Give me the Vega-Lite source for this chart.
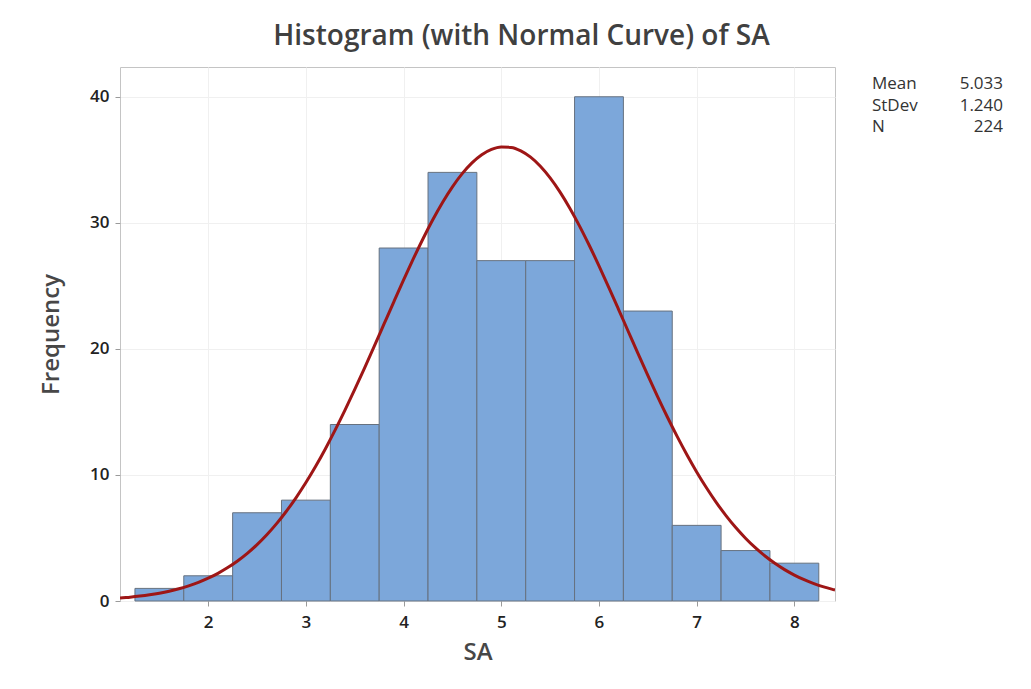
{
  "$schema": "https://vega.github.io/schema/vega-lite/v6.json",
  "width": 715,
  "height": 534,
  "autosize": {"type": "none"},
  "padding": {"left": 120, "top": 67, "right": 196, "bottom": 88},
  "background": "white",
  "config": {
    "font": "Open Sans",
    "view": {"stroke": "#c4c4c4", "strokeWidth": 1}
  },
  "title": {
    "text": "Histogram (with Normal Curve) of SA",
    "fontSize": 28,
    "fontWeight": 600,
    "color": "#404040",
    "anchor": "middle",
    "dx": 44,
    "offset": 16
  },
  "datasets": {
    "bins": [
      {"start": 1.25, "end": 1.75, "count": 1},
      {"start": 1.75, "end": 2.25, "count": 2},
      {"start": 2.25, "end": 2.75, "count": 7},
      {"start": 2.75, "end": 3.25, "count": 8},
      {"start": 3.25, "end": 3.75, "count": 14},
      {"start": 3.75, "end": 4.25, "count": 28},
      {"start": 4.25, "end": 4.75, "count": 34},
      {"start": 4.75, "end": 5.25, "count": 27},
      {"start": 5.25, "end": 5.75, "count": 27},
      {"start": 5.75, "end": 6.25, "count": 40},
      {"start": 6.25, "end": 6.75, "count": 23},
      {"start": 6.75, "end": 7.25, "count": 6},
      {"start": 7.25, "end": 7.75, "count": 4},
      {"start": 7.75, "end": 8.25, "count": 3}
    ],
    "curve": [
      {"x": 1.097, "y": 0.233},
      {"x": 1.1, "y": 0.236},
      {"x": 1.2, "y": 0.303},
      {"x": 1.3, "y": 0.388},
      {"x": 1.4, "y": 0.493},
      {"x": 1.5, "y": 0.622},
      {"x": 1.6, "y": 0.780},
      {"x": 1.7, "y": 0.973},
      {"x": 1.8, "y": 1.204},
      {"x": 1.9, "y": 1.481},
      {"x": 2.0, "y": 1.809},
      {"x": 2.1, "y": 2.196},
      {"x": 2.2, "y": 2.649},
      {"x": 2.3, "y": 3.175},
      {"x": 2.4, "y": 3.781},
      {"x": 2.5, "y": 4.473},
      {"x": 2.6, "y": 5.256},
      {"x": 2.7, "y": 6.138},
      {"x": 2.8, "y": 7.121},
      {"x": 2.9, "y": 8.207},
      {"x": 3.0, "y": 9.397},
      {"x": 3.1, "y": 10.690},
      {"x": 3.2, "y": 12.084},
      {"x": 3.3, "y": 13.569},
      {"x": 3.4, "y": 15.140},
      {"x": 3.5, "y": 16.781},
      {"x": 3.6, "y": 18.481},
      {"x": 3.7, "y": 20.219},
      {"x": 3.8, "y": 21.978},
      {"x": 3.9, "y": 23.736},
      {"x": 4.0, "y": 25.470},
      {"x": 4.1, "y": 27.150},
      {"x": 4.2, "y": 28.755},
      {"x": 4.3, "y": 30.257},
      {"x": 4.4, "y": 31.631},
      {"x": 4.5, "y": 32.854},
      {"x": 4.6, "y": 33.902},
      {"x": 4.7, "y": 34.757},
      {"x": 4.8, "y": 35.403},
      {"x": 4.9, "y": 35.827},
      {"x": 5.0, "y": 36.020},
      {"x": 5.1, "y": 35.980},
      {"x": 5.2, "y": 35.708},
      {"x": 5.3, "y": 35.208},
      {"x": 5.4, "y": 34.489},
      {"x": 5.5, "y": 33.566},
      {"x": 5.6, "y": 32.456},
      {"x": 5.7, "y": 31.180},
      {"x": 5.8, "y": 29.759},
      {"x": 5.9, "y": 28.219},
      {"x": 6.0, "y": 26.587},
      {"x": 6.1, "y": 24.884},
      {"x": 6.2, "y": 23.141},
      {"x": 6.3, "y": 21.380},
      {"x": 6.4, "y": 19.624},
      {"x": 6.5, "y": 17.897},
      {"x": 6.6, "y": 16.215},
      {"x": 6.7, "y": 14.597},
      {"x": 6.8, "y": 13.055},
      {"x": 6.9, "y": 11.600},
      {"x": 7.0, "y": 10.239},
      {"x": 7.1, "y": 8.982},
      {"x": 7.2, "y": 7.826},
      {"x": 7.3, "y": 6.776},
      {"x": 7.4, "y": 5.827},
      {"x": 7.5, "y": 4.980},
      {"x": 7.6, "y": 4.227},
      {"x": 7.7, "y": 3.566},
      {"x": 7.8, "y": 2.989},
      {"x": 7.9, "y": 2.488},
      {"x": 8.0, "y": 2.058},
      {"x": 8.1, "y": 1.691},
      {"x": 8.2, "y": 1.381},
      {"x": 8.3, "y": 1.120},
      {"x": 8.4, "y": 0.903},
      {"x": 8.416, "y": 0.870}
    ],
    "stats": [
      {"label": "Mean", "value": "5.033", "lx": 8.794, "vx": 10.136, "ty": 41.01},
      {"label": "StDev", "value": "1.240", "lx": 8.794, "vx": 10.136, "ty": 39.30},
      {"label": "N", "value": "224", "lx": 8.794, "vx": 10.136, "ty": 37.59}
    ]
  },
  "layer": [
    {
      "data": {"name": "bins"},
      "mark": {"type": "rect", "fill": "#7ca7da", "stroke": "#66717f", "strokeWidth": 1},
      "encoding": {
        "x": {
          "field": "start", "type": "quantitative",
          "scale": {"domain": [1.097, 8.416], "nice": false, "zero": false},
          "axis": {
            "values": [2, 3, 4, 5, 6, 7, 8],
            "format": "d",
            "title": "SA",
            "grid": true, "gridColor": "#f0f0f0",
            "domain": false,
            "tickColor": "#9a9a9a", "tickSize": 5,
            "labelFontSize": 17, "labelFontWeight": 600, "labelColor": "#222222", "labelPadding": 8,
            "titleFontSize": 24, "titleFontWeight": 600, "titleColor": "#474747", "titlePadding": 10
          }
        },
        "x2": {"field": "end"},
        "y": {
          "field": "count", "type": "quantitative",
          "scale": {"domain": [0, 42.36], "nice": false},
          "axis": {
            "values": [0, 10, 20, 30, 40],
            "title": "Frequency",
            "grid": true, "gridColor": "#f0f0f0",
            "domain": false,
            "tickColor": "#9a9a9a", "tickSize": 5,
            "labelFontSize": 17, "labelFontWeight": 600, "labelColor": "#222222", "labelPadding": 6,
            "titleFontSize": 24, "titleFontWeight": 600, "titleColor": "#474747", "titlePadding": 26
          }
        },
        "y2": {"datum": 0}
      }
    },
    {
      "data": {"name": "curve"},
      "mark": {"type": "line", "color": "#9e1616", "strokeWidth": 3, "clip": true, "interpolate": "monotone"},
      "encoding": {
        "x": {"field": "x", "type": "quantitative"},
        "y": {"field": "y", "type": "quantitative"}
      }
    },
    {
      "data": {"name": "stats"},
      "mark": {"type": "text", "align": "left", "baseline": "middle", "fontSize": 17, "fontWeight": 500, "color": "#333333"},
      "encoding": {
        "x": {"field": "lx", "type": "quantitative"},
        "y": {"field": "ty", "type": "quantitative"},
        "text": {"field": "label"}
      }
    },
    {
      "data": {"name": "stats"},
      "mark": {"type": "text", "align": "right", "baseline": "middle", "fontSize": 17, "fontWeight": 500, "color": "#333333"},
      "encoding": {
        "x": {"field": "vx", "type": "quantitative"},
        "y": {"field": "ty", "type": "quantitative"},
        "text": {"field": "value"}
      }
    }
  ]
}
